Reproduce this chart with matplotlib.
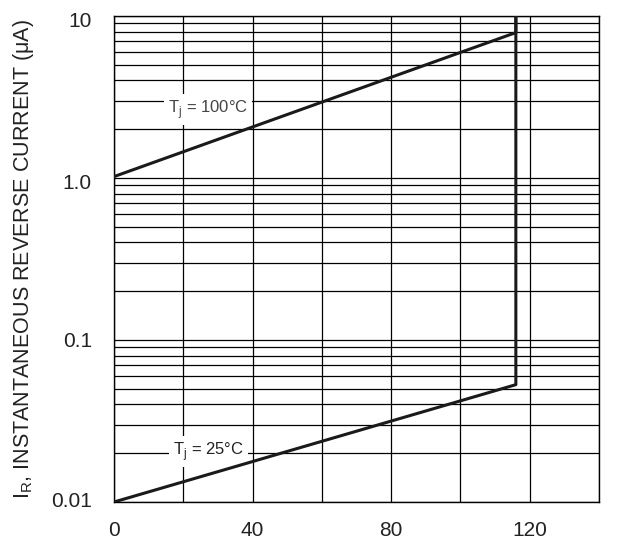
import matplotlib
matplotlib.use("Agg")
import matplotlib.pyplot as plt
from matplotlib.ticker import LogLocator, FixedLocator, NullFormatter
from matplotlib.transforms import ScaledTranslation

plt.rcParams["font.family"] = ["Liberation Sans", "DejaVu Sans"]

# reverse voltage (V) vs instantaneous reverse current (uA)
v_25 = [0, 116, 116]
ir_25 = [0.01, 0.053, 12]
v_100 = [0, 116, 116]
ir_100 = [1.02, 7.9, 12]

x_ticks = [0, 40, 80, 120]
y_ticks = [0.01, 0.1, 1.0, 10]
y_labels = ["0.01", "0.1", "1.0", "10"]

fig = plt.figure(figsize=(6.39, 5.42), dpi=100)
ax = fig.add_axes([0.1784, 0.0738, 0.759, 0.8967])

ax.set_yscale("log")
ax.set_xlim(0, 140)
ax.set_ylim(0.01, 10)

ax.plot(v_25, ir_25, color="#1a1a1a", lw=2.2, zorder=3)
ax.plot(v_100, ir_100, color="#1a1a1a", lw=2.2, zorder=3)

# grid: every 20 V, full log decades
ax.xaxis.set_minor_locator(FixedLocator(range(0, 141, 20)))
ax.yaxis.set_minor_locator(LogLocator(base=10, subs=range(2, 10)))
ax.yaxis.set_minor_formatter(NullFormatter())
ax.grid(True, which="both", color="black", lw=0.9)
ax.set_axisbelow(True)

ax.set_xticks(x_ticks)
ax.set_yticks(y_ticks)
ax.set_yticklabels(y_labels)
ax.tick_params(which="both", length=0, labelsize=15, colors="#222222")
ax.tick_params(axis="x", pad=14)
ax.tick_params(axis="y", pad=16)

# the scanned labels sit a little off their lines
shifts = [-3, 0, 4, 4]
for lab, dy in zip(ax.get_yticklabels(), shifts):
    lab.set_transform(lab.get_transform() + ScaledTranslation(0, -dy / 100, fig.dpi_scale_trans))

for s in ax.spines.values():
    s.set_color("black")
    s.set_linewidth(1.0)

box = dict(facecolor="white", edgecolor="none", pad=3)
ax.text(15.6, 2.65, "T$_\\mathregular{j}$ = 100°C", fontsize=12, color="#444444",
        va="center", ha="left", bbox=box, zorder=2.5)
ax.text(17.0, 0.0205, "T$_\\mathregular{j}$ = 25°C", fontsize=12, color="#222222",
        va="center", ha="left", bbox=box, zorder=2.5)

ax.set_ylabel("I$_\\mathregular{R}$, INSTANTANEOUS REVERSE CURRENT (μA)", fontsize=15.5,
              color="#222222")
ax.yaxis.set_label_coords(-0.16, 0.5)

fig.savefig("out.png", dpi=100)
